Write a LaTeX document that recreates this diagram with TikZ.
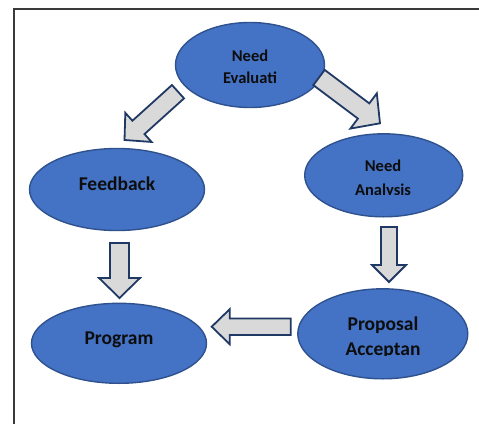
\documentclass[tikz,border=0pt]{standalone}
\usepackage{fontspec}
\setmainfont{Carlito}
\usetikzlibrary{shapes.geometric,calc}
\definecolor{ellfill}{HTML}{4472C4}
\definecolor{ellline}{HTML}{2F528F}
\definecolor{arrfill}{HTML}{D9D9D9}
\definecolor{arrline}{HTML}{203864}
\definecolor{txtcol}{HTML}{0D0D0D}
\definecolor{framecol}{HTML}{3A3A3A}
\tikzset{
  ell/.style={ellipse, draw=ellline, fill=ellfill, line width=1.4pt, inner sep=0pt},
  lblsmall/.style={font=\fontsize{16.5}{20}\selectfont\bfseries, text=txtcol, anchor=base, inner sep=0pt},
  lblbig/.style={font=\fontsize{19.5}{23}\selectfont\bfseries, text=txtcol, anchor=base, inner sep=0pt},
  blockarrow/.style={fill=arrfill, draw=arrline, line width=1.8pt, line join=miter},
}
\newcommand{\blockarr}[5]{%
  \coordinate (#2b) at ($(#2)!#5!(#1)$);
  \draw[blockarrow] ($(#1)!#3!90:(#2)$) -- ($(#2b)!#3!90:(#2)$) -- ($(#2b)!#4!90:(#2)$) -- (#2) -- ($(#2b)!#4!-90:(#2)$) -- ($(#2b)!#3!-90:(#2)$) -- ($(#1)!#3!-90:(#2)$) -- cycle;}
\begin{document}
\begin{tikzpicture}[x=1pt,y=-1pt]
\useasboundingbox (0,0) rectangle (479,423);
\fill[white] (0,0) rectangle (479,423);
% frame
\draw[framecol, line width=2pt] (14,430) -- (14,9.3) -- (490,9.3);
% ellipses
\node[ell, minimum width=149pt, minimum height=85pt] (eval) at (250,65) {};
\node[ell, minimum width=175pt, minimum height=82pt] (feed) at (117,189.5) {};
\node[ell, minimum width=158pt, minimum height=83pt] (anal) at (383.7,175.3) {};
\node[ell, minimum width=175pt, minimum height=80pt] (prog) at (119,343.3) {};
\node[ell, minimum width=170pt, minimum height=90pt] (prop) at (382.8,333.8) {};
% labels
\node[lblsmall] (evalA) at (250,61) {Need};
\node[lblsmall] (evalB) at (250,83.3) {Evaluati};
\node[lblbig] (feedA) at (117,190) {Feedback};
\node[lblsmall] (analA) at (383,171.7) {Need};
\begin{scope}
\clip (340,150) rectangle (430,194.8);
\node[lblsmall] (analB) at (383,195) {Analysis};
\end{scope}
\node[lblbig] (progA) at (119,344) {Program};
\node[lblbig] (propA) at (383,330.7) {Proposal};
\begin{scope}
\clip (320,335) rectangle (450,355);
\node[lblbig] (propB) at (383,355) {Acceptan};
\end{scope}
% arrow endpoints
\coordinate (t1) at (178,91.7);   \coordinate (p1) at (124.5,140);
\coordinate (t2) at (319,77.5);   \coordinate (p2) at (380,123.3);
\coordinate (t3) at (389,227);    \coordinate (p3) at (389,282);
\coordinate (t4) at (119.5,243);  \coordinate (p4) at (119.5,298);
\coordinate (t5) at (290.7,326.7);\coordinate (p5) at (211.7,326.7);
\blockarr{t1}{p1}{9pt}{19.6pt}{18.8pt}
\blockarr{t2}{p2}{9.5pt}{22pt}{20.5pt}
\blockarr{t3}{p3}{8pt}{17pt}{17pt}
\blockarr{t4}{p4}{9.5pt}{20.5pt}{20pt}
\blockarr{t5}{p5}{8.3pt}{17.5pt}{18pt}
\end{tikzpicture}
\end{document}
